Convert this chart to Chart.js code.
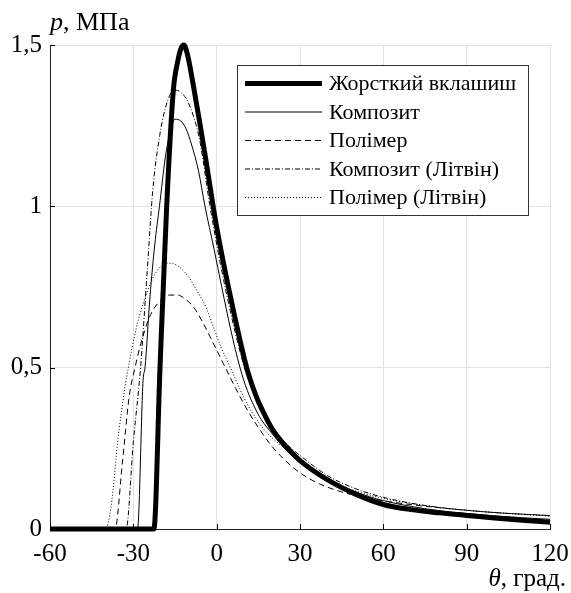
<!DOCTYPE html>
<html>
<head>
<meta charset="utf-8">
<script src="https://cdn.jsdelivr.net/npm/chart.js@4.4.0/dist/chart.umd.min.js"></script>
<style>
html,body{margin:0;padding:0;background:#fff;}
#wrap{position:relative;width:571px;height:593px;}
</style>
</head>
<body>
<div id="wrap"><canvas id="chart" width="571" height="593"></canvas></div>
<script>
// values (theta in degrees, p in MPa)
const seriesNames = ['Жорсткий вклашиш', 'Композит', 'Полімер', 'Композит (Літвін)', 'Полімер (Літвін)'];
const xTicks = [-60, -30, 0, 30, 60, 90, 120];
const yTicks = [0, 0.5, 1, 1.5];

const rigidX = [-60, -22.6, -20.4, -18.0, -15.6, -14.0, -12.8, -11.8, -10.5, -8.5, -6, -4, -2, 0, 4.2, 10.8, 13, 15, 17.5, 20, 25, 30, 40, 50, 60, 70, 80, 90, 100, 110, 120];
const rigidY = [0, 0, 0.5, 1.0, 1.36, 1.45, 1.49, 1.5, 1.47, 1.38, 1.255, 1.15, 1.04, 0.935, 0.751, 0.5, 0.44, 0.395, 0.35, 0.31, 0.255, 0.212, 0.152, 0.108, 0.076, 0.06, 0.05, 0.042, 0.034, 0.027, 0.021];

const compX = [-60, -28.5, -26.5, -25.8, -24, -22.3, -20.6, -18.5, -16.5, -15, -13, -11, -9, -6.6, -4.2, -1, 1.8, 5, 8.4, 11, 13.5, 16, 20, 25, 30, 40, 50, 60, 70, 80, 90, 100, 110, 120];
const compY = [0, 0, 0.46, 0.5, 0.72, 0.88, 1.0, 1.15, 1.24, 1.27, 1.265, 1.24, 1.19, 1.112, 1.0, 0.87, 0.751, 0.62, 0.5, 0.43, 0.38, 0.34, 0.295, 0.245, 0.207, 0.152, 0.115, 0.088, 0.07, 0.057, 0.048, 0.041, 0.035, 0.03];

const polyX = [-60, -36.6, -34, -31.5, -29.4, -27.6, -24.6, -22.8, -20, -17, -14, -11, -8.4, -5, -2.4, 2.4, 8.4, 12, 15.6, 20, 25, 30, 37, 45, 55, 66, 80, 90, 100, 110, 120];
const polyY = [0, 0, 0.2, 0.41, 0.5, 0.565, 0.648, 0.68, 0.71, 0.725, 0.725, 0.71, 0.689, 0.64, 0.596, 0.513, 0.41, 0.355, 0.307, 0.255, 0.21, 0.174, 0.14, 0.115, 0.095, 0.08, 0.066, 0.058, 0.051, 0.046, 0.041];

const compLitX = [-60, -32.6, -30, -27.4, -25, -23, -20.5, -18.6, -16.5, -14.6, -12.5, -10.7, -8, -6, -2.4, 3, 10, 12.5, 15, 20, 25, 30, 40, 50, 60, 70, 80, 90, 100, 110, 120];
const compLitY = [0, 0, 0.27, 0.5, 0.8, 1.05, 1.22, 1.3, 1.35, 1.36, 1.35, 1.33, 1.27, 1.2, 1.0, 0.751, 0.5, 0.44, 0.39, 0.318, 0.265, 0.228, 0.165, 0.125, 0.098, 0.08, 0.067, 0.058, 0.051, 0.046, 0.042];

const polyLitX = [-60, -40, -38, -35.5, -33, -31.8, -29, -26.4, -23.4, -21, -18, -15.5, -13.2, -10, -7.2, -4, -1.2, 1.5, 4.8, 8, 12, 16, 20, 24, 30, 36, 42, 50, 60, 70, 80, 90, 100, 110, 120];
const polyLitY = [0, 0, 0.07, 0.28, 0.44, 0.5, 0.62, 0.70, 0.77, 0.805, 0.824, 0.822, 0.81, 0.78, 0.74, 0.69, 0.627, 0.565, 0.503, 0.44, 0.372, 0.32, 0.282, 0.254, 0.215, 0.175, 0.143, 0.118, 0.095, 0.079, 0.067, 0.058, 0.051, 0.045, 0.04];

const serif = '"Liberation Serif", "Times New Roman", serif';

function pts(xs, ys) {
  return xs.map((x, i) => ({x: x, y: ys[i]}));
}

function line(label, xs, ys, width, dash) {
  return {
    label: label,
    data: pts(xs, ys),
    borderColor: '#000',
    borderWidth: width,
    borderDash: dash,
    pointRadius: 0,
    fill: false,
    cubicInterpolationMode: 'monotone',
    clip: 10
  };
}

// axis titles, inward ticks and the boxed legend
const extras = {
  id: 'extras',
  afterDraw(chart) {
    const c = chart.ctx;
    const xs = chart.scales.x, ys = chart.scales.y;
    const area = chart.chartArea;
    c.save();
    c.strokeStyle = '#000';
    c.lineWidth = 1;
    c.setLineDash([]);
    xTicks.forEach(v => {
      const px = Math.round(xs.getPixelForValue(v)) + 0.5;
      c.beginPath(); c.moveTo(px, area.bottom); c.lineTo(px, area.bottom - 5); c.stroke();
    });
    yTicks.forEach(v => {
      const py = Math.round(ys.getPixelForValue(v)) + 0.5;
      c.beginPath(); c.moveTo(area.left, py); c.lineTo(area.left + 5, py); c.stroke();
    });

    c.fillStyle = '#000';
    c.textBaseline = 'alphabetic';
    c.textAlign = 'left';
    c.font = 'italic 26px ' + serif;
    c.fillText('p', 50, 30);
    const pw = c.measureText('p').width;
    c.font = '26px ' + serif;
    c.fillText(', МПа', 50 + pw, 30);

    c.textAlign = 'right';
    c.font = '25px ' + serif;
    c.fillText(', град.', 566, 586);
    const gw = c.measureText(', град.').width;
    c.font = 'italic 25px ' + serif;
    c.fillText('θ', 566 - gw, 586);

    // legend
    c.fillStyle = '#fff';
    c.fillRect(237, 65, 291, 150);
    c.strokeStyle = '#333';
    c.strokeRect(237.5, 65.5, 291, 150);
    c.textAlign = 'left';
    c.textBaseline = 'middle';
    c.font = '22px ' + serif;
    chart.data.datasets.forEach((ds, i) => {
      const y = 83.5 + i * 28.5;
      c.beginPath();
      c.strokeStyle = '#000';
      c.lineWidth = ds.borderWidth;
      c.setLineDash(ds.borderDash || []);
      c.moveTo(245, y); c.lineTo(322, y); c.stroke();
      c.setLineDash([]);
      c.fillStyle = '#000';
      c.fillText(ds.label, 329, y + 1);
    });
    c.restore();
  }
};

const ctx = document.getElementById('chart');

const myChart = new Chart(ctx, {
  type: 'line',
  data: {
    datasets: [
      line(seriesNames[0], rigidX, rigidY, 5, []),
      line(seriesNames[1], compX, compY, 1, []),
      line(seriesNames[2], polyX, polyY, 1, [6, 4]),
      line(seriesNames[3], compLitX, compLitY, 1, [5, 2, 1, 2]),
      line(seriesNames[4], polyLitX, polyLitY, 1, [1, 2])
    ]
  },
  options: {
    responsive: false,
    animation: false,
    layout: {padding: {left: 0, top: 45, right: 21, bottom: 0}},
    plugins: {legend: {display: false}, tooltip: {enabled: false}},
    scales: {
      x: {
        type: 'linear',
        min: -60, max: 120,
        afterBuildTicks: s => { s.ticks = xTicks.map(v => ({value: v})); },
        afterFit: s => { s.height = 64; s.paddingLeft = 0; s.paddingRight = 0; },
        grid: {color: '#e2e2e2', drawTicks: false},
        border: {color: '#222', width: 1},
        ticks: {color: '#000', padding: 10, font: {family: serif, size: 25}}
      },
      y: {
        min: 0, max: 1.5,
        afterBuildTicks: s => { s.ticks = yTicks.map(v => ({value: v})); },
        afterFit: s => { s.width = 50; s.paddingTop = 0; s.paddingBottom = 0; },
        grid: {color: '#e2e2e2', drawTicks: false},
        border: {color: '#222', width: 1},
        ticks: {
          color: '#000', padding: 8, font: {family: serif, size: 25},
          callback: v => String(v).replace('.', ',')
        }
      }
    }
  },
  plugins: [extras]
});
</script>
</body>
</html>
